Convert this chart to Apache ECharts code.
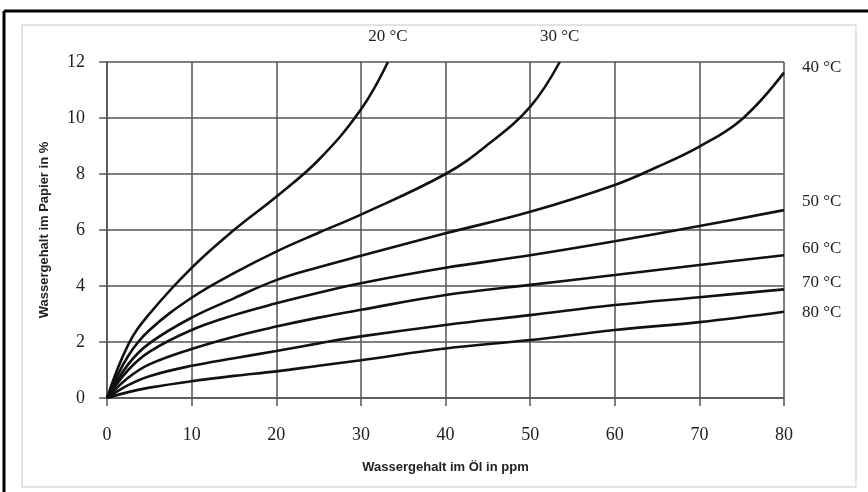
<!DOCTYPE html>
<html>
<head>
<meta charset="utf-8">
<title>Wassergehalt</title>
<script src="https://cdn.jsdelivr.net/npm/echarts@6/dist/echarts.min.js"></script>
<style>
html,body{margin:0;padding:0;background:#fff;}
#main{width:868px;height:492px;}
</style>
</head>
<body>
<div id="main"></div>
<script>
/* 坐标轴刻度 */
var xTicks = [0, 10, 20, 30, 40, 50, 60, 70, 80];
var yTicks = [0, 2, 4, 6, 8, 10, 12];

/* 曲线名称 */
var curveNames = ['20 °C', '30 °C', '40 °C', '50 °C', '60 °C', '70 °C', '80 °C'];

/* 曲线数据 [ppm, %] */
var t20 = [[0,0],[2.5,1.9],[5,3.0],[10,4.65],[15,6.0],[20,7.19],[25,8.5],[30,10.3],[33.2,12]];
var t30 = [[0,0],[2.5,1.5],[5,2.42],[10,3.58],[15,4.46],[20,5.23],[25,5.9],[30,6.55],[40,8.0],[45,9.05],[50,10.4],[53.5,12]];
var t40 = [[0,0],[2.5,1.2],[5,1.95],[10,2.87],[15,3.56],[20,4.21],[25,4.67],[30,5.08],[40,5.88],[50,6.65],[60,7.61],[65,8.25],[70,8.98],[75,9.95],[80,11.62]];
var t50 = [[0,0],[2.5,1.0],[5,1.65],[10,2.43],[15,2.96],[20,3.38],[25,3.76],[30,4.1],[40,4.65],[50,5.1],[60,5.6],[70,6.14],[80,6.71]];
var t60 = [[0,0],[2.5,0.72],[5,1.2],[10,1.75],[15,2.19],[20,2.55],[25,2.87],[30,3.15],[40,3.68],[50,4.04],[60,4.39],[70,4.75],[80,5.1]];
var t70 = [[0,0],[2.5,0.46],[5,0.78],[10,1.15],[15,1.42],[20,1.68],[25,1.95],[30,2.2],[40,2.61],[50,2.96],[60,3.32],[70,3.6],[80,3.88]];
var t80 = [[0,0],[2.5,0.21],[5,0.37],[10,0.6],[15,0.79],[20,0.95],[25,1.15],[30,1.35],[40,1.77],[50,2.07],[60,2.43],[70,2.71],[80,3.08]];

var curves = [t20, t30, t40, t50, t60, t70, t80];

/* 标签位置：上方 or 右侧 */
var labelOffsets = [[0,-25],[0,-25],[18,-5],[18,-9],[18,-7],[18,-7],[18,1]];

var serif = '"Liberation Serif", "DejaVu Serif", serif';
var sans = '"Liberation Sans", Arial, sans-serif';
var gridColor = '#555';

var makeSeries = function(i) {
    var top = i < 2;
    return {
        name: curveNames[i],
        type: 'line',
        data: curves[i],
        smooth: 0.4,
        showSymbol: false,
        clip: true,
        lineStyle: {color: '#111', width: 2.6},
        endLabel: {
            show: true,
            formatter: curveNames[i],
            fontFamily: serif,
            fontSize: 17,
            color: '#222',
            distance: 0,
            align: top ? 'center' : 'left',
            verticalAlign: 'middle',
            offset: labelOffsets[i]
        },
        emphasis: {disabled: true},
        animation: false
    };
};

var series = [];
for (var i = 0; i < curves.length; i++) {
    series.push(makeSeries(i));
}

var chart = echarts.init(document.getElementById('main'));
chart.setOption({
    animation: false,
    grid: {left: 107, top: 62, right: 84, bottom: 94},
    xAxis: {
        type: 'value',
        min: xTicks[0],
        max: xTicks[xTicks.length - 1],
        interval: 10,
        name: 'Wassergehalt im Öl in ppm',
        nameLocation: 'middle',
        nameGap: 63,
        nameTextStyle: {fontFamily: sans, fontWeight: 'bold', fontSize: 13, color: '#222'},
        axisLine: {show: true, lineStyle: {color: gridColor, width: 1.5}},
        axisTick: {show: true, length: 8, lineStyle: {color: gridColor, width: 1.5}},
        axisLabel: {fontFamily: serif, fontSize: 18, color: '#222', margin: 28},
        splitLine: {show: true, lineStyle: {color: gridColor, width: 1.5}}
    },
    yAxis: {
        type: 'value',
        min: yTicks[0],
        max: yTicks[yTicks.length - 1],
        interval: 2,
        name: 'Wassergehalt im Papier in %',
        nameLocation: 'middle',
        nameGap: 56,
        nameTextStyle: {fontFamily: sans, fontWeight: 'bold', fontSize: 13, color: '#222'},
        axisLine: {show: true, lineStyle: {color: gridColor, width: 1.5}},
        axisTick: {show: true, length: 8, lineStyle: {color: gridColor, width: 1.5}},
        axisLabel: {fontFamily: serif, fontSize: 18, color: '#222', margin: 22},
        splitLine: {show: true, lineStyle: {color: gridColor, width: 1.5}}
    },
    //外框
    graphic: [
        {type: 'rect', shape: {x: 22, y: 25, width: 834, height: 462}, style: {fill: 'none', stroke: '#c8c8c8', lineWidth: 1}, silent: true},
        {type: 'line', shape: {x1: 4, y1: 11, x2: 868, y2: 11}, style: {stroke: '#000', lineWidth: 3}, silent: true},
        {type: 'line', shape: {x1: 4, y1: 11, x2: 4, y2: 492}, style: {stroke: '#000', lineWidth: 3}, silent: true}
    ],
    series: series
});
</script>
</body>
</html>
